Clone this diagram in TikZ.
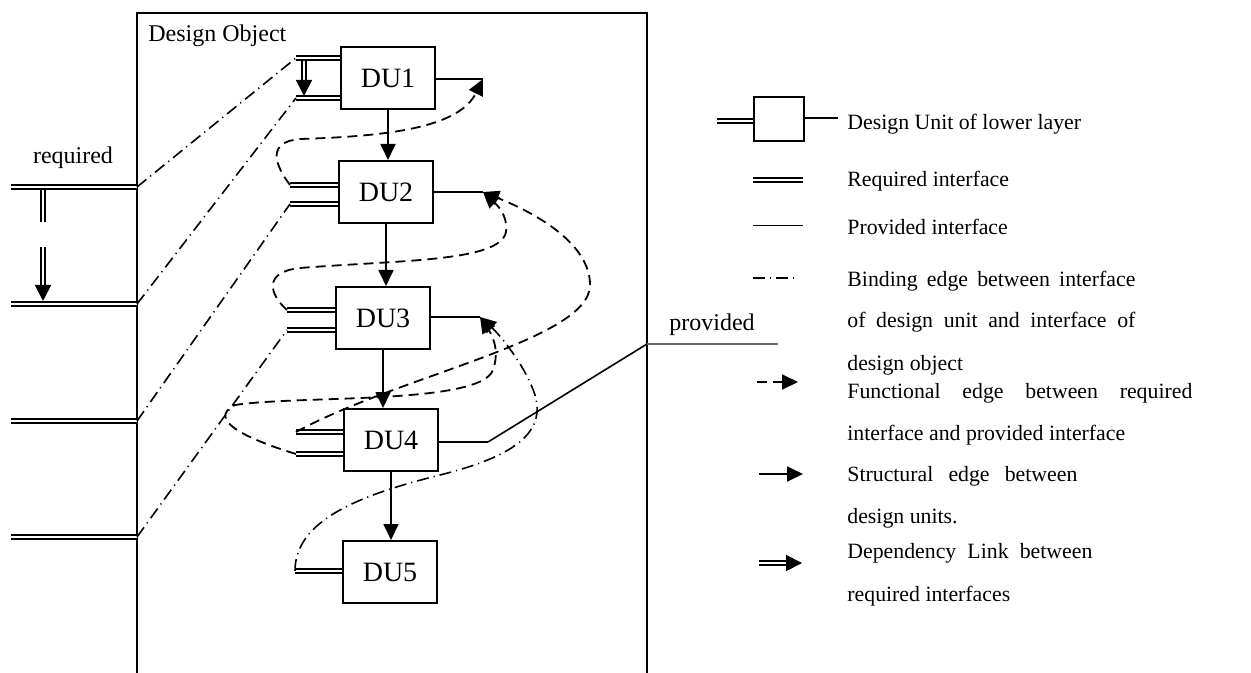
\documentclass[tikz,border=0pt]{standalone}
\usepackage{fontspec}
\setmainfont{Liberation Serif}
\usetikzlibrary{arrows.meta,calc}

\begin{document}
\begin{tikzpicture}[x=0.5pt,y=-0.5pt,
  du/.style={draw,line width=1pt,minimum width=47pt,minimum height=31pt,inner sep=0,font=\fontsize{14}{16}\selectfont},
  req/.style={double,line width=0.9pt,double distance=1pt},
  prov/.style={line width=0.8pt},
  bind/.style={line width=0.8pt,dash pattern=on 6pt off 2.5pt on 0.6pt off 2.5pt},
  func/.style={line width=0.9pt,dash pattern=on 5pt off 3pt,-{Triangle[length=8pt,width=7.5pt]}},
  struct/.style={line width=0.9pt,-{Triangle[length=8pt,width=7.5pt]}},
  dep/.style={req,-{Triangle[length=8pt,width=8pt]}},
  lbl/.style={font=\fontsize{12}{14}\selectfont,inner sep=0},
  legend/.style={font=\fontsize{10.9}{13}\selectfont,inner sep=0,anchor=base west},
]
\useasboundingbox (0,0) rectangle (1251,673);

% design object frame
\draw[line width=0.9pt] (137,673) -- (137,13) -- (647,13) -- (647,673);
\node[lbl,anchor=base west] (title) at (148,41.5) {Design Object};

% design units
\node[du] (DU1) at (388,78) {DU1};
\node[du] (DU2) at (386,192) {DU2};
\node[du] (DU3) at (383,318) {DU3};
\node[du] (DU4) at (391,440) {DU4};
\node[du] (DU5) at (390,572) {DU5};

% required interfaces of the units
\coordinate (r1a) at (296,58);
\coordinate (r1b) at (296,98);
\coordinate (r2a) at (290,185);
\coordinate (r2b) at (290,204);
\coordinate (r3a) at (287,310);
\coordinate (r3b) at (287,330);
\coordinate (r4a) at (296,432);
\coordinate (r4b) at (296,454);
\coordinate (r5) at (295,571);
\foreach \r/\u in {r1a/DU1,r1b/DU1,r2a/DU2,r2b/DU2,r3a/DU3,r3b/DU3,r4a/DU4,r4b/DU4,r5/DU5}
  \draw[req] (\r) -- (\r -| \u.west);

% provided interfaces of the units
\coordinate (p1) at (483,79);
\coordinate (p2) at (483,192);
\coordinate (p3) at (480,317);
\coordinate (p4) at (488,442);
\foreach \p/\u in {p1/DU1,p2/DU2,p3/DU3,p4/DU4}
  \draw[prov] (\u.east |- \p) -- (\p);

% interfaces of the design object
\coordinate (o1) at (137,187);
\coordinate (o2) at (137,304);
\coordinate (o3) at (137,421);
\coordinate (o4) at (137,537);
\foreach \o in {o1,o2,o3,o4}
  \draw[req] (\o) -- ++(-126,0);
\node[lbl,anchor=base] (required) at (73,164) {required};
\coordinate (op) at (647,344);
\draw[prov] (p4) -- (op);
\draw[line width=0.6pt,black!60] (op) -- ++(131,0);
\node[lbl,anchor=base] (provided) at (712,330) {provided};

% dependency links
\coordinate (d1) at (304,61);
\coordinate (d2) at (304,96);
\draw[dep] (d1) -- (d2);
\coordinate (d3) at (43,190);
\coordinate (d4) at (43,222);
\coordinate (d5) at (43,247);
\coordinate (d6) at (43,301);
\draw[req] (d3) -- (d4);
\draw[dep] (d5) -- (d6);

% binding edges
\draw[bind] (o1) -- (r1a);
\draw[bind] (o2) -- (r1b);
\draw[bind] (o3) -- (r2b);
\draw[bind] (o4) -- (r3b);
\draw[bind,-{Triangle[length=8pt,width=7.5pt]}] (r5) .. controls (295,520) and (360,495) .. (440,475)
  .. controls (520,455) and (545,430) .. (535,395) .. controls (525,365) and (500,335) .. (p3);

% structural edges
\draw[struct] (DU1.south) -- (DU1.south |- DU2.north);
\draw[struct] (DU2.south) -- (DU2.south |- DU3.north);
\draw[struct] (DU3.south) -- (DU3.south |- DU4.north);
\draw[struct] (DU4.south) -- (DU4.south |- DU5.north);

% functional edges
\draw[func] (r2a) .. controls (275,165) and (266,142) .. (300,139) .. controls (400,136) and (460,125) .. (p1);
\draw[func] (r3a) .. controls (270,295) and (262,272) .. (300,268) .. controls (400,260) and (500,262) .. (506,232)
  .. controls (508,215) and (497,205) .. (p2);
\draw[func] (r4a) .. controls (400,375) and (590,340) .. (590,285) .. controls (590,245) and (540,215) .. (p2);
\draw[func] (r4b) .. controls (250,440) and (205,420) .. (235,405) .. controls (300,395) and (480,405) .. (493,370)
  .. controls (500,350) and (492,335) .. (p3);

% legend
\node[du,minimum width=25pt,minimum height=22pt] (lgdu) at (778.5,119) {};
\draw[req] ([yshift=-1pt]lgdu.west) -- ++(-36,0);
\draw[prov] ([yshift=0.5pt]lgdu.east) -- ++(33,0);
\node[legend] (t1) at (847,130) {Design Unit of lower layer};
\draw[req] (753,180) -- (803,180);
\node[legend] (t2) at (847,186.5) {Required interface};
\draw[line width=0.5pt] (753,226) -- (803,226);
\node[legend] (t3) at (847,234.5) {Provided interface};
\draw[bind] (753,278) -- (796,278);
\node[legend] (t4) at (847,287) {\makebox[144pt][s]{Binding edge between interface}};
\node[legend] (t5) at (847,328) {\makebox[144pt][s]{of design unit and interface of}};
\node[legend] (t6) at (847,370) {design object};
\draw[func] (757,382) -- (798,382);
\node[legend] (t7) at (847,398) {\makebox[172.5pt][s]{Functional edge between required}};
\node[legend] (t8) at (847,440) {interface and provided interface};
\draw[struct] (759,474) -- (803,474);
\node[legend] (t9) at (847,481) {\makebox[115pt][s]{Structural edge between}};
\node[legend] (t10) at (847,523) {design units.};
\draw[dep] (759,563) -- (802,563);
\node[legend] (t11) at (847,558.5) {\makebox[122.5pt][s]{Dependency Link between}};
\node[legend] (t12) at (847,601.5) {required interfaces};
\end{tikzpicture}
\end{document}
